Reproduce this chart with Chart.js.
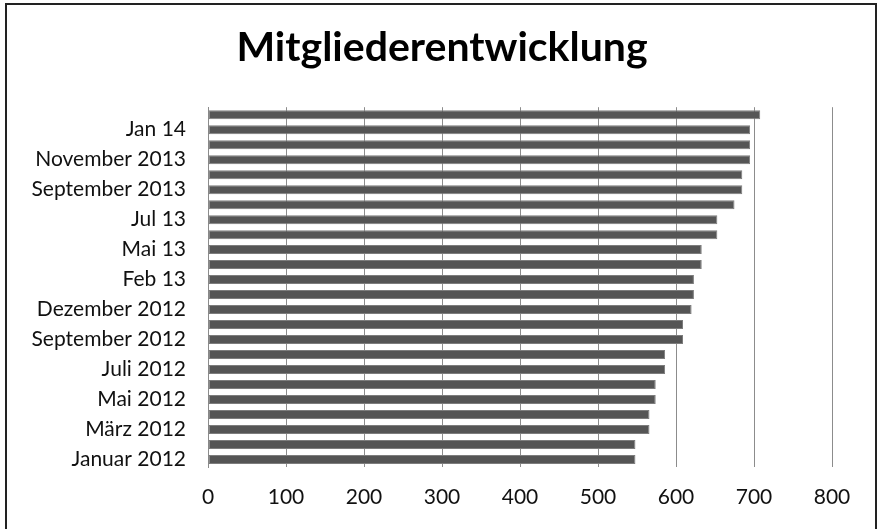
<!DOCTYPE html>
<html>
<head>
<meta charset="utf-8">
<script src="https://cdn.jsdelivr.net/npm/chart.js@4"></script>
<style>
  html, body { margin: 0; padding: 0; background: #ffffff; }
  #wrap { position: relative; width: 881px; height: 529px; overflow: hidden; background: #fff; }
  #frame { position: absolute; left: 5px; top: 3px; width: 868px; height: 560px; border: 2.5px solid #222; pointer-events: none; }
  canvas { position: absolute; left: 0; top: 0; }
</style>
</head>
<body>
<div id="wrap">
  <canvas id="c" width="881" height="529"></canvas>
  <div id="frame"></div>
</div>
<script>
// Categories, chronological (bottom to top in the chart)
const categories = [
  "Januar 2012", "Februar 2012", "März 2012", "April 2012",
  "Mai 2012", "Juni 2012", "Juli 2012", "August 2012",
  "September 2012", "Oktober 2012", "Dezember 2012", "Jan 13",
  "Feb 13", "Apr 13", "Mai 13", "Jun 13",
  "Jul 13", "Aug 13", "September 2013", "Oktober 2013",
  "November 2013", "Dezember 2013", "Jan 14", "Feb 14"
];
// Member counts
const members = [
  548, 548, 566, 566,
  574, 574, 586, 586,
  609, 609, 620, 623,
  623, 633, 633, 653,
  653, 675, 685, 685,
  695, 695, 695, 708
];
const xTicks = [0, 100, 200, 300, 400, 500, 600, 700, 800];
const titleText = "Mitgliederentwicklung";

const FONT = "Lato, 'Open Sans', sans-serif";

// Center the title on the framed image rather than on the padded layout box
const centerTitle = {
  id: 'centerTitle',
  afterLayout(chart) {
    if (chart.titleBlock) {
      chart.titleBlock.left = 3;
      chart.titleBlock.right = chart.width;
    }
  }
};

new Chart(document.getElementById('c'), {
  type: 'bar',
  data: {
    labels: categories,
    datasets: [{
      data: members,
      backgroundColor: '#555555',
      borderColor: '#7d7d7d',
      borderWidth: 1,
      borderSkipped: false,
      barPercentage: 0.6,
      categoryPercentage: 1.0
    }]
  },
  plugins: [centerTitle],
  options: {
    indexAxis: 'y',
    responsive: false,
    animation: false,
    devicePixelRatio: 1,
    layout: { padding: { left: 0, right: 49, top: 0, bottom: 0 } },
    plugins: {
      legend: { display: false },
      tooltip: { enabled: false },
      title: {
        display: true,
        text: titleText,
        color: '#000',
        font: { family: FONT, size: 41, weight: 'bold', lineHeight: 1.2 },
        padding: { top: 23, bottom: 35 }
      }
    },
    scales: {
      x: {
        min: xTicks[0],
        max: xTicks[xTicks.length - 1],
        afterBuildTicks: (s) => { s.ticks = xTicks.map(v => ({ value: v })); },
        afterFit: (s) => { s.height = 62; },
        grid: { color: '#8c8c8c', lineWidth: 1, drawTicks: false },
        border: { display: false },
        ticks: {
          color: '#111',
          font: { family: FONT, size: 21 },
          padding: 18,
          maxRotation: 0
        }
      },
      y: {
        reverse: true,
        afterFit: (s) => { s.width = 208; },
        grid: { display: false, drawTicks: false },
        border: { display: true, color: '#8c8c8c', width: 1 },
        ticks: {
          autoSkip: false,
          color: '#111',
          font: { family: FONT, size: 21 },
          padding: 22,
          callback: function (v, i) { return i % 2 === 0 ? categories[i] : ''; }
        }
      }
    }
  }
});
</script>
</body>
</html>
